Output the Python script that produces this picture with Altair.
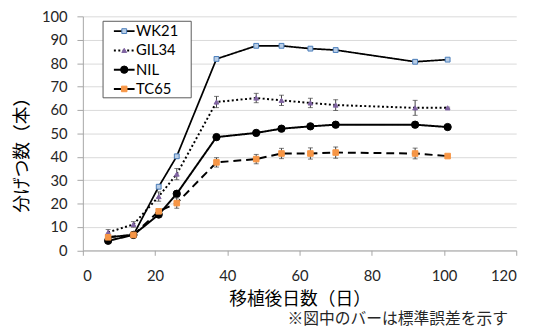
import altair as alt
import pandas as pd

days = [7, 14, 21, 26, 37, 48, 55, 63, 70, 92, 101]
series = ["WK21", "GIL34", "NIL", "TC65"]

wk21 = [5.7, 6.6, 27.2, 40.2, 81.8, 87.4, 87.4, 86.2, 85.6, 80.6, 81.5]
gil34 = [7.7, 11.1, 23.0, 32.6, 63.4, 65.1, 64.1, 63.0, 62.1, 60.9, 60.9]
nil = [4.1, 6.6, 15.3, 24.2, 48.4, 50.2, 52.0, 53.0, 53.7, 53.7, 52.7]
tc65 = [5.6, 6.6, 16.7, 20.2, 37.6, 39.0, 41.4, 41.4, 41.8, 41.4, 40.3]

se_wk21 = [0.5, 0.5, 0.8, 0.8, 0.6, 0.6, 0.6, 0.6, 0.5, 0.8, 0.5]
se_gil34 = [1.2, 1.2, 2.0, 2.4, 2.4, 2.0, 2.2, 2.0, 2.3, 3.2, 0.3]
se_nil = [0.8, 0.5, 1.0, 1.2, 1.2, 1.0, 1.0, 1.0, 1.2, 1.2, 0.5]
se_tc65 = [1.0, 0.8, 1.2, 2.2, 2.0, 2.0, 2.2, 2.4, 2.4, 2.3, 0.3]

rows = []
for name, vals, errs in zip(series, [wk21, gil34, nil, tc65],
                            [se_wk21, se_gil34, se_nil, se_tc65]):
    for d, v, e in zip(days, vals, errs):
        rows.append({"series": name, "day": d, "value": v, "lo": v - e, "hi": v + e})
df = pd.DataFrame(rows)
legend_df = pd.DataFrame({"series": series})

styles = {
    "WK21": dict(width=1.75, dash=[1, 0], shape="square", fill="#B9CDE5", stroke="#4A7EBB", size=24),
    "GIL34": dict(width=2, dash=[2, 2.5], shape="triangle-up", fill="#8064A2", stroke="#8064A2", size=24),
    "NIL": dict(width=2, dash=[1, 0], shape="circle", fill="#000000", stroke="#000000", size=55),
    "TC65": dict(width=2, dash=[8, 5], shape="square", fill="#F79646", stroke="#F79646", size=32),
}

LATIN = "Lato"
CJK = "Noto Sans CJK JP"

x_axis = alt.Axis(values=list(range(0, 121, 20)), title="移植後日数（日）", grid=False,
                  domainColor="#A6A6A6", tickColor="#A6A6A6", tickSize=5,
                  labelFont=LATIN, labelFontSize=15, labelColor="#262626", labelPadding=14,
                  titleFont=CJK, titleFontSize=18, titleFontWeight="normal", titleColor="#000000",
                  titlePadding=7)
y_axis = alt.Axis(values=list(range(0, 101, 10)), title="分げつ数（本）", grid=True,
                  gridColor="#D9D9D9", domainColor="#A6A6A6", tickColor="#A6A6A6", tickSize=6,
                  labelFont=LATIN, labelFontSize=15, labelColor="#262626", labelPadding=10,
                  titleFont=CJK, titleFontSize=18, titleFontWeight="normal", titleColor="#000000",
                  titleAngle=270, titleX=-61, titleY=136, titleAlign="center", titleBaseline="middle")

x_scale = alt.Scale(domain=[0, 120], nice=False)
y_scale = alt.Scale(domain=[0, 100], nice=False)

X = alt.X("day:Q", scale=x_scale, axis=x_axis)
def Y(field):
    return alt.Y(f"{field}:Q", scale=y_scale, axis=y_axis)

base = alt.Chart(df)
main_layers = []
for s in series:
    st = styles[s]
    sub = base.transform_filter(alt.datum.series == s)
    main_layers.append(sub.mark_rule(color="#404040", strokeWidth=1).encode(x=X, y=Y("lo"), y2="hi:Q"))
    main_layers.append(sub.mark_tick(orient="horizontal", size=5, thickness=1, color="#404040").encode(x=X, y=Y("lo")))
    main_layers.append(sub.mark_tick(orient="horizontal", size=5, thickness=1, color="#404040").encode(x=X, y=Y("hi")))
    main_layers.append(sub.mark_line(color="#000000", strokeWidth=st["width"], strokeDash=st["dash"]).encode(x=X, y=Y("value")))
    main_layers.append(sub.mark_point(shape=st["shape"], filled=True, fill=st["fill"], stroke=st["stroke"],
                                      strokeWidth=1, size=st["size"], opacity=1).encode(x=X, y=Y("value")))
main = alt.layer(*main_layers)

# legend
ly_scale = alt.Scale(type="point", domain=series, range=[15, 73.7], padding=0)
LY = alt.Y("series:N", scale=ly_scale, axis=None)
lbase = alt.Chart(legend_df)
leg_layers = [
    alt.Chart(pd.DataFrame({"k": [0]})).mark_rect(fill="white", stroke="#595959", strokeWidth=1).encode(
        x=alt.value(20.5), x2=alt.value(110), y=alt.value(5), y2=alt.value(82.7))
]
for s in series:
    st = styles[s]
    sub = lbase.transform_filter(alt.datum.series == s)
    leg_layers.append(sub.mark_rule(color="#000000", strokeWidth=st["width"], strokeDash=st["dash"]).encode(
        x=alt.value(31.5), x2=alt.value(52.5), y=LY))
    leg_layers.append(sub.mark_point(shape=st["shape"], filled=True, fill=st["fill"], stroke=st["stroke"],
                                     strokeWidth=1, size=st["size"], opacity=1).encode(x=alt.value(42), y=LY))
leg_layers.append(lbase.mark_text(align="left", baseline="middle", font=LATIN, fontSize=15, color="#000000").encode(
    x=alt.value(54), y=LY, text="series:N"))
legend = alt.layer(*leg_layers)

chart = alt.layer(main, legend).resolve_scale(y="independent").properties(
    width=440, height=237.6,
    autosize=alt.AutoSizeParams(type="none"),
    padding={"left": 76, "top": 6, "right": 17, "bottom": 81},
    title=alt.TitleParams("※図中のバーは標準誤差を示す", orient="bottom", anchor="end",
                          font=CJK, fontSize=16, fontWeight="normal", color="#262626",
                          offset=3, dx=-9),
).configure_view(stroke=None)

chart.save("out.html", embed_options={"renderer": "svg", "actions": False})
